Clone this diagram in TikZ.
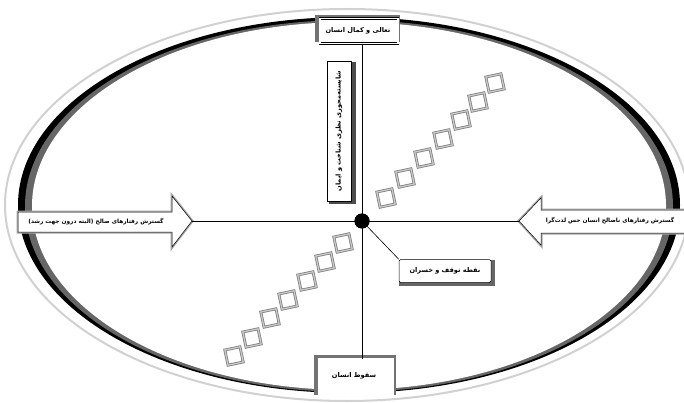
\documentclass[tikz,border=0pt]{standalone}
\usepackage{fontspec}
\newfontfamily\fa[Script=Arabic]{DejaVu Sans}
\TeXXeTstate=1
\begin{document}
\begin{tikzpicture}[x=1pt,y=-1pt,
  txt/.style={font=\fa\bfseries\fontsize{6.6}{7.5}\selectfont, inner sep=0pt},
  smalltxt/.style={font=\fa\bfseries\fontsize{5.8}{7}\selectfont, inner sep=0pt},
  framebox/.style={draw=black, line width=0.5pt, fill=white, double=white, double distance=1.6pt},
  shadowfill/.style={fill=black!55},
  arrowshape/.style={draw=black, line width=0.5pt, fill=white},
  arrowhalo/.style={draw=black!35, line width=3pt},
  link/.style={draw=black, line width=0.9pt},
  sq/.style={draw=black!50, line width=0.8pt, minimum size=15.5pt, inner sep=0pt, rotate=12, double=white!80!black, double distance=1.2pt}
]
\useasboundingbox (0,0) rectangle (684,403);
\fill[white] (0,0) rectangle (684,403);
% ellipse frame
\draw[black!18, line width=2pt] (347,205) ellipse [x radius=342, y radius=196];
\fill[black] (349,205) ellipse [x radius=331, y radius=188];
\fill[black!60] (349,206) ellipse [x radius=324, y radius=186];
\fill[white] (349,206) ellipse [x radius=317, y radius=184];

% center dot
\node[circle, fill=black, minimum size=15pt, inner sep=0pt] (dot) at (362,221) {};

% top box
\fill[shadowfill] (315,15) rectangle (400,42);
\node[framebox, minimum width=78pt, minimum height=25pt] (tbox) at (359,31) {};
\node[txt] (ttxt) at (358,31) {\beginR تعالی و کمال انسان\endR};

% bottom box
\fill[shadowfill] (314,355) rectangle (396,395);
\node[framebox, minimum width=74pt, minimum height=36pt] (bbox) at (356,377) {};
\node[txt] (btxt) at (354,376) {\beginR سقوط انسان\endR};

% vertical text box
\fill[black!70] (329,62) rectangle (356,204);
\node[draw=black, line width=0.5pt, fill=white, minimum width=24pt, minimum height=140pt, inner sep=0pt] (vbox) at (339,131) {};
\node[txt, rotate=90] (vtxt) at (339,131) {\beginR شایسته‌محوری نظری شناخت و ایمان\endR};

% left arrow
\path[arrowhalo] (18,212) -- (172,212) -- (172,196) -- (192,221) -- (172,247) -- (172,232) -- (18,232) -- cycle;
\path[arrowshape] (18,212) -- (172,212) -- (172,196) -- (192,221) -- (172,247) -- (172,232) -- (18,232) -- cycle;
\coordinate (ltip) at (192,221);
\node[smalltxt] (ltxt) at (96,222) {\beginR گسترش رفتارهای صالح (البته درون جهت رشد)\endR};

% right arrow
\path[arrowhalo] (690,210) -- (541,210) -- (541,198) -- (519,221) -- (541,245) -- (541,233) -- (690,233) -- cycle;
\path[arrowshape] (690,210) -- (541,210) -- (541,198) -- (519,221) -- (541,245) -- (541,233) -- (690,233) -- cycle;
\coordinate (rtip) at (519,221);
\node[smalltxt] (rtxt) at (610,221) {\beginR گسترش رفتارهای ناصالح انسان حس لذت‌گرا\endR};

% label box
\fill[black!60] (399,260) rectangle (495,286);
\node[draw=black, line width=0.5pt, fill=white, rounded corners=1.5pt, minimum width=92pt, minimum height=23pt, inner sep=0pt] (lbl) at (445,271) {};
\node[txt] (lbltxt) at (445,271) {\beginR نقطه توقف و خسران\endR};

% connectors
\draw[link] (ltip) -- (dot.center);
\draw[link] (dot.center) -- (rtip);
\draw[link] (tbox.south -| dot) -- (dot.center);
\draw[link] (dot.center) -- (bbox.north -| dot);
\draw[link, line width=0.6pt] (dot.center) -- (lbl.north west);
\node[circle, fill=black, minimum size=15pt, inner sep=0pt] at (dot) {};

% upper chain
\foreach \i/\x/\y in {1/495/83, 2/478/102, 3/461/120, 4/443/139, 5/424/158, 6/405/178, 7/386/198}
  \node[sq] (u\i) at (\x,\y) {};
% lower chain
\foreach \i/\x/\y in {1/343/243, 2/325/262, 3/307/281, 4/288/300, 5/270/318, 6/252/338, 7/234/356}
  \node[sq] (d\i) at (\x,\y) {};
\end{tikzpicture}
\end{document}
